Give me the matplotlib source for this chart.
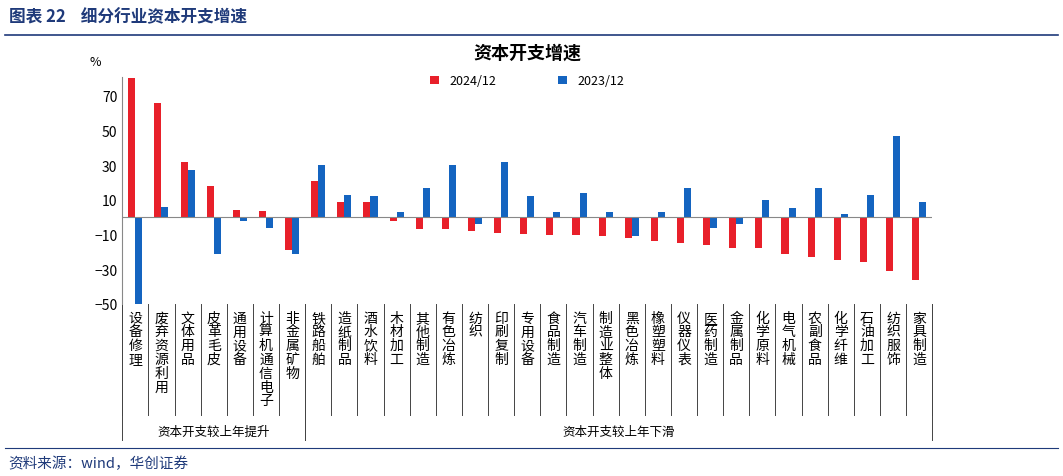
import numpy as np
import matplotlib.pyplot as plt
import matplotlib.transforms as mtransforms

plt.rcParams["font.family"] = "Noto Sans CJK SC"

categories = ["设备修理", "废弃资源利用", "文体用品", "皮革毛皮", "通用设备", "计算机通信电子",
              "非金属矿物", "铁路船舶", "造纸制品", "酒水饮料", "木材加工", "其他制造", "有色冶炼",
              "纺织", "印刷复制", "专用设备", "食品制造", "汽车制造", "制造业整体", "黑色冶炼",
              "橡塑塑料", "仪器仪表", "医药制造", "金属制品", "化学原料", "电气机械", "农副食品",
              "化学纤维", "石油加工", "纺织服饰", "家具制造"]
v2024 = [80, 66, 32, 18, 4, 3.5, -19, 21, 9, 9, -2, -7, -7, -8, -9, -10, -10.5, -10.5, -11,
         -12, -14, -15, -16, -18, -18, -21, -23, -25, -26, -31, -36]
v2023 = [-50, 6, 27, -21, -2, -6, -21, 30, 13, 12, 3, 17, 30, -4, 32, 12, 3, 14, 3, -11, 3,
         17, -6, -4, 10, 5, 17, 2, 13, 47, 9]
yticks = [-50, -30, -10, 10, 30, 50, 70]
groups = [("资本开支较上年提升", 0, 7), ("资本开支较上年下滑", 7, 31)]

navy = "#1f3a7a"
fig = plt.figure(figsize=(10.63, 4.77), dpi=100)
fig.text(0.008, 0.965, "图表 22    细分行业资本开支增速", fontsize=12, fontweight="bold",
         color=navy, va="center")
fig.add_artist(plt.Line2D([0.005, 0.995], [0.925, 0.925], color=navy, lw=1.2))
fig.add_artist(plt.Line2D([0.005, 0.995], [0.058, 0.058], color=navy, lw=0.8))
fig.text(0.008, 0.028, "资料来源：wind，华创证券", fontsize=10.5, style="italic",
         color=navy, va="center")

ax = fig.add_axes([0.115, 0.361, 0.762, 0.476])
x = np.arange(len(categories))
w = 0.27
ax.bar(x - w / 2, v2024, w, color="#e8202a", label="2024/12")
ax.bar(x + w / 2, v2023, w, color="#1464c0", label="2023/12")
ax.set_xlim(-0.5, len(categories) - 0.5)
ax.set_ylim(-50, 81)
ax.set_yticks(yticks)
ax.tick_params(axis="y", length=0, labelsize=10)
ax.set_xticks([])
ax.axhline(0, color="#888888", lw=0.8)
for s in ["top", "right", "bottom"]:
    ax.spines[s].set_visible(False)
ax.spines["left"].set_color("#888888")
ax.text(-0.04, 1.05, "%", transform=ax.transAxes, fontsize=9)
ax.set_title("资本开支增速", fontsize=13, fontweight="bold", pad=14)
ax.legend(loc="upper center", bbox_to_anchor=(0.5, 1.06), ncol=2, frameon=False,
          fontsize=9, handlelength=0.7, handleheight=0.7, columnspacing=5)

trans = mtransforms.blended_transform_factory(ax.transData, ax.transAxes)
for i, c in enumerate(categories):
    ax.text(i, -0.03, "\n".join(c), transform=trans, ha="center", va="top",
            fontsize=10, linespacing=0.98)
for i in range(len(categories) + 1):
    ax.plot([i - 0.5, i - 0.5], [0, -0.49], transform=trans, color="#444444",
            lw=0.7, clip_on=False)
for name, a, b in groups:
    ax.plot([a - 0.5, a - 0.5], [0, -0.6], transform=trans, color="#444444", lw=0.7, clip_on=False)
    ax.plot([b - 0.5, b - 0.5], [0, -0.6], transform=trans, color="#444444", lw=0.7, clip_on=False)
    ax.text((a + b - 1) / 2, -0.56, name, transform=trans, ha="center", va="center", fontsize=9)

fig.savefig("out.png", dpi=100)
